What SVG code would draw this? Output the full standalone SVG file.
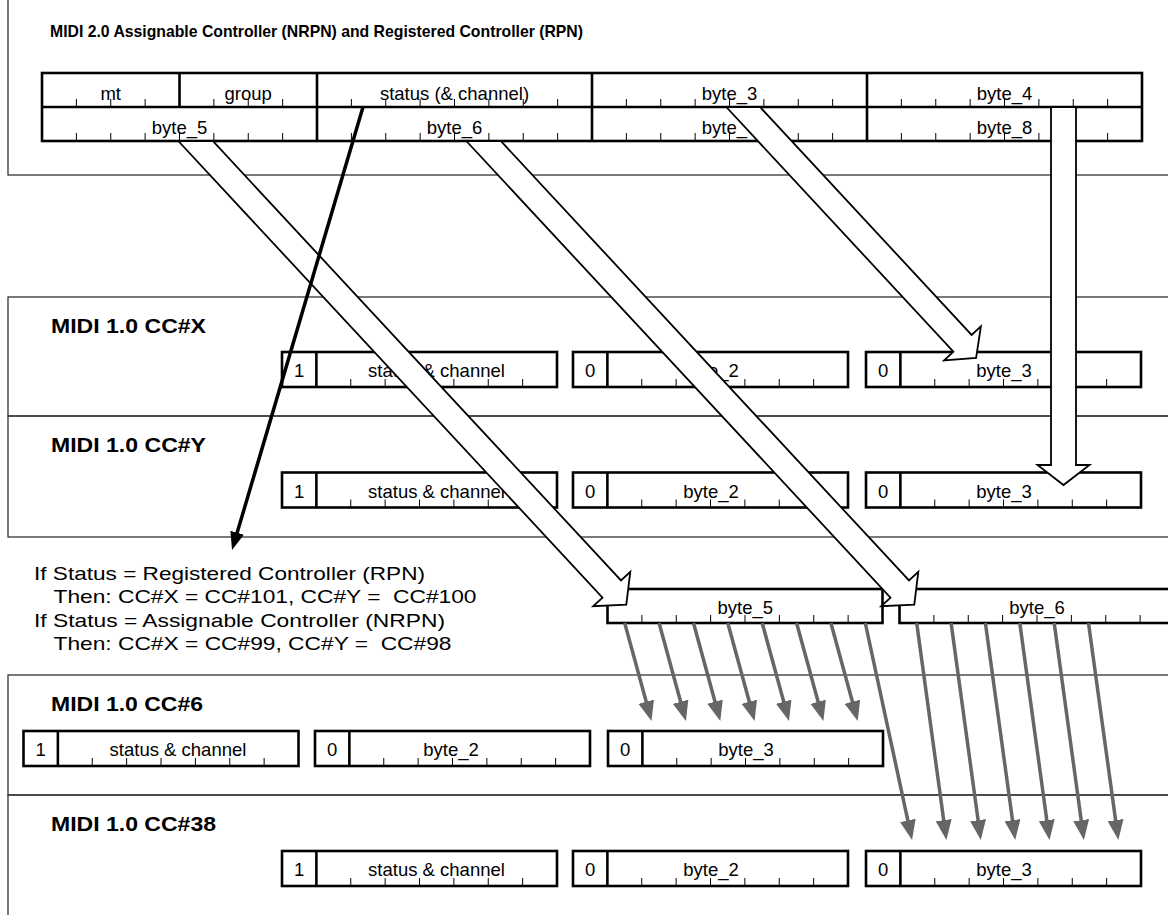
<svg xmlns="http://www.w3.org/2000/svg" width="1168" height="915" viewBox="0 0 1168 915">
<style>
.frame{fill:none;stroke:#333;stroke-width:1.3}
.box{fill:#fff;stroke:#000;stroke-width:2.6}
.div{stroke:#000;stroke-width:2.6}
.tick{stroke:#000;stroke-width:1;fill:none}
.hollow{fill:#fff;stroke:#000;stroke-width:1.8;stroke-linejoin:miter}
.blk{stroke:#000;stroke-width:3.5;fill:none}
.gry{stroke:#666;stroke-width:3.5;fill:none}
text{font-family:"Liberation Sans",Arial,Helvetica,sans-serif;fill:#000}
.ttl{font-size:20.5px;font-weight:bold}
.lbl{font-size:18.5px;text-anchor:middle}
.note{font-size:19px}
</style>
<defs>
<marker id="hb" markerUnits="userSpaceOnUse" viewBox="0 0 18 14" refX="4" refY="7" markerWidth="18" markerHeight="14" orient="auto"><path d="M0,0 L18,7 L0,14 z" fill="#000"/></marker>
<marker id="hg" markerUnits="userSpaceOnUse" viewBox="0 0 20 16" refX="6" refY="8" markerWidth="20" markerHeight="16" orient="auto"><path d="M0,0 L20,8 L0,16 z" fill="#666"/></marker>
<g id="b7"><rect class="box" x="0" y="0" width="275" height="35"/><line class="div" x1="34.375" y1="0" x2="34.375" y2="35"/><path class="tick" d="M68.75 27v8M103.13 27v8M137.5 27v8M171.88 27v8M206.25 27v8M240.63 27v8"/></g>
<g id="b8"><rect class="box" x="0" y="0" width="275" height="34"/><path class="tick" d="M34.38 26v8M68.75 26v8M103.13 26v8M137.5 26v8M171.88 26v8M206.25 26v8M240.63 26v8"/></g>
</defs>
<rect width="1168" height="915" fill="#fff"/>

<g id="frames">
<rect class="frame" x="8" y="-2" width="1170" height="177"/>
<rect class="frame" x="8" y="297" width="1170" height="119"/>
<rect class="frame" x="8" y="416" width="1170" height="121"/>
<rect class="frame" x="8" y="675" width="1170" height="120"/>
<rect class="frame" x="8" y="795" width="1170" height="130"/>
</g>

<g id="titles">
<text class="ttl" x="50" y="37" style="font-size:17px" textLength="533" lengthAdjust="spacingAndGlyphs">MIDI 2.0 Assignable Controller (NRPN) and Registered Controller (RPN)</text>
<text class="ttl" x="51" y="333" textLength="155" lengthAdjust="spacingAndGlyphs">MIDI 1.0 CC#X</text>
<text class="ttl" x="51" y="452" textLength="155" lengthAdjust="spacingAndGlyphs">MIDI 1.0 CC#Y</text>
<text class="ttl" x="51" y="711" textLength="152" lengthAdjust="spacingAndGlyphs">MIDI 1.0 CC#6</text>
<text class="ttl" x="51" y="831" textLength="165" lengthAdjust="spacingAndGlyphs">MIDI 1.0 CC#38</text>
</g>

<g id="ump-packet">
<rect class="box" x="42" y="73" width="1100" height="68"/>
<line class="div" x1="42" y1="107" x2="1142" y2="107"/>
<line class="div" x1="179.5" y1="73" x2="179.5" y2="107"/>
<line class="div" x1="317" y1="73" x2="317" y2="141"/>
<line class="div" x1="592" y1="73" x2="592" y2="141"/>
<line class="div" x1="867" y1="73" x2="867" y2="141"/>
<path class="tick" d="M76.38 99v8M110.75 99v8M145.13 99v8M213.88 99v8M248.25 99v8M282.63 99v8M351.38 99v8M385.75 99v8M420.13 99v8M454.5 99v8M488.88 99v8M523.25 99v8M557.63 99v8M626.38 99v8M660.75 99v8M695.13 99v8M729.5 99v8M763.88 99v8M798.25 99v8M832.63 99v8M901.38 99v8M935.75 99v8M970.13 99v8M1004.5 99v8M1038.88 99v8M1073.25 99v8M1107.63 99v8"/>
<path class="tick" d="M76.38 133v8M110.75 133v8M145.13 133v8M179.5 133v8M213.88 133v8M248.25 133v8M282.63 133v8M351.38 133v8M385.75 133v8M420.13 133v8M454.5 133v8M488.88 133v8M523.25 133v8M557.63 133v8M626.38 133v8M660.75 133v8M695.13 133v8M729.5 133v8M763.88 133v8M798.25 133v8M832.63 133v8M901.38 133v8M935.75 133v8M970.13 133v8M1004.5 133v8M1038.88 133v8M1073.25 133v8M1107.63 133v8"/>
<text class="lbl" x="110.7" y="99.5">mt</text>
<text class="lbl" x="248.25" y="99.5">group</text>
<text class="lbl" x="454.5" y="99.5">status (&amp; channel)</text>
<text class="lbl" x="729.5" y="99.5">byte_3</text>
<text class="lbl" x="1004.5" y="99.5">byte_4</text>
<text class="lbl" x="179.5" y="133.5">byte_5</text>
<text class="lbl" x="454.5" y="133.5">byte_6</text>
<text class="lbl" x="729.5" y="133.5">byte_7</text>
<text class="lbl" x="1004.5" y="133.5">byte_8</text>
</g>

<g id="cc-x">
<use href="#b7" x="282" y="352"/><use href="#b7" x="573" y="352"/><use href="#b7" x="866" y="352"/>
<text class="lbl" x="299.2" y="377">1</text><text class="lbl" x="436.5" y="377">status &amp; channel</text>
<text class="lbl" x="590.2" y="377">0</text><text class="lbl" x="711" y="377">byte_2</text>
<text class="lbl" x="883.2" y="377">0</text><text class="lbl" x="1004" y="377">byte_3</text>
</g>

<g id="cc-y">
<use href="#b7" x="282" y="472.5"/><use href="#b7" x="573" y="472.5"/><use href="#b7" x="866" y="472.5"/>
<text class="lbl" x="299.2" y="497.5">1</text><text class="lbl" x="436.5" y="497.5">status &amp; channel</text>
<text class="lbl" x="590.2" y="497.5">0</text><text class="lbl" x="711" y="497.5">byte_2</text>
<text class="lbl" x="883.2" y="497.5">0</text><text class="lbl" x="1004" y="497.5">byte_3</text>
</g>

<g id="note">
<text class="note" x="34" y="580" textLength="391" lengthAdjust="spacingAndGlyphs">If Status = Registered Controller (RPN)</text>
<text class="note" x="53.5" y="603" textLength="423" lengthAdjust="spacingAndGlyphs" xml:space="preserve">Then: CC#X = CC#101, CC#Y =  CC#100</text>
<text class="note" x="34" y="627" textLength="411" lengthAdjust="spacingAndGlyphs">If Status = Assignable Controller (NRPN)</text>
<text class="note" x="53.5" y="650" textLength="398" lengthAdjust="spacingAndGlyphs" xml:space="preserve">Then: CC#X = CC#99, CC#Y =  CC#98</text>
</g>

<g id="data-bytes">
<use href="#b8" x="607.5" y="589"/><use href="#b8" x="899.5" y="589"/>
<text class="lbl" x="745.3" y="614">byte_5</text>
<text class="lbl" x="1037" y="614">byte_6</text>
</g>

<g id="cc-6">
<use href="#b7" x="23.5" y="731"/><use href="#b7" x="315" y="731"/><use href="#b7" x="608" y="731"/>
<text class="lbl" x="40.7" y="756">1</text><text class="lbl" x="178" y="756">status &amp; channel</text>
<text class="lbl" x="332.2" y="756">0</text><text class="lbl" x="451" y="756">byte_2</text>
<text class="lbl" x="625.2" y="756">0</text><text class="lbl" x="746" y="756">byte_3</text>
</g>

<g id="cc-38">
<use href="#b7" x="282" y="851"/><use href="#b7" x="573" y="851"/><use href="#b7" x="866" y="851"/>
<text class="lbl" x="299.2" y="876">1</text><text class="lbl" x="436.5" y="876">status &amp; channel</text>
<text class="lbl" x="590.2" y="876">0</text><text class="lbl" x="711" y="876">byte_2</text>
<text class="lbl" x="883.2" y="876">0</text><text class="lbl" x="1004" y="876">byte_3</text>
</g>

<g id="connectors">
<polygon class="hollow" points="178.3,141 602.5,597.6 593.2,606.2 626.3,604.7 630.3,571.8 621,580.4 212.8,141"/>
<polygon class="hollow" points="466.3,141 890.5,597.6 881.2,606.2 914.3,604.7 918.3,571.8 909,580.4 500.8,141"/>
<polygon class="hollow" points="726.3,107 953.4,351.7 944.1,360.3 976.1,358 980.9,326.3 971.6,334.9 760,107"/>
<polygon class="hollow" points="1051,107 1051,465 1037.5,465 1063.5,485 1089.5,465 1076,465 1076,107"/>
<line class="blk" x1="362.8" y1="107.7" x2="236" y2="536.6" marker-end="url(#hb)"/>
<g class="gry">
<line x1="624.7" y1="623" x2="647.8" y2="707.5" marker-end="url(#hg)"/>
<line x1="659.1" y1="623" x2="682.2" y2="707.5" marker-end="url(#hg)"/>
<line x1="693.5" y1="623" x2="716.6" y2="707.5" marker-end="url(#hg)"/>
<line x1="727.8" y1="623" x2="750.9" y2="707.5" marker-end="url(#hg)"/>
<line x1="762.2" y1="623" x2="785.3" y2="707.5" marker-end="url(#hg)"/>
<line x1="796.6" y1="623" x2="819.7" y2="707.5" marker-end="url(#hg)"/>
<line x1="830.9" y1="623" x2="854" y2="707.5" marker-end="url(#hg)"/>
<line x1="865.3" y1="623" x2="909.1" y2="826.3" marker-end="url(#hg)"/>
<line x1="916.7" y1="623" x2="944.5" y2="826.1" marker-end="url(#hg)"/>
<line x1="951.1" y1="623" x2="978.9" y2="826.1" marker-end="url(#hg)"/>
<line x1="985.4" y1="623" x2="1013.3" y2="826.1" marker-end="url(#hg)"/>
<line x1="1019.8" y1="623" x2="1047.6" y2="826.1" marker-end="url(#hg)"/>
<line x1="1054.2" y1="623" x2="1082" y2="826.1" marker-end="url(#hg)"/>
<line x1="1088.5" y1="623" x2="1116.4" y2="826.1" marker-end="url(#hg)"/>
</g>
</g>
</svg>
